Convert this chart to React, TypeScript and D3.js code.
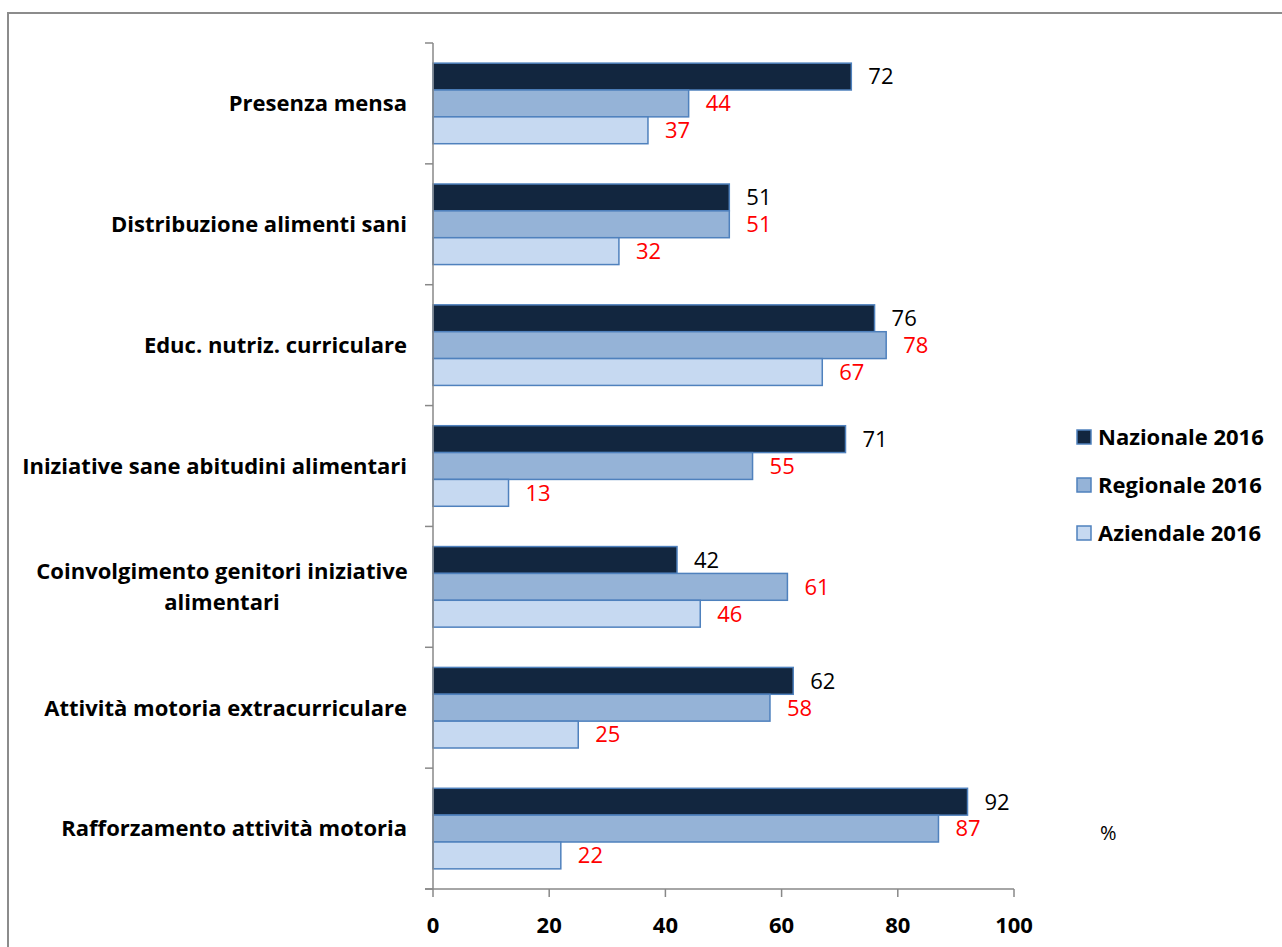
import React from "react";
import * as d3 from "d3";

const categories = [
  ["Presenza mensa"],
  ["Distribuzione alimenti sani"],
  ["Educ. nutriz. curriculare"],
  ["Iniziative sane abitudini alimentari"],
  ["Coinvolgimento genitori iniziative", "alimentari"],
  ["Attività motoria extracurriculare"],
  ["Rafforzamento attività motoria"],
];
const nazionale = [72, 51, 76, 71, 42, 62, 92];
const regionale = [44, 51, 78, 55, 61, 58, 87];
const aziendale = [37, 32, 67, 13, 46, 25, 22];
const seriesNames = ["Nazionale 2016", "Regionale 2016", "Aziendale 2016"];
const seriesColors = ["#12263f", "#95b3d7", "#c6d9f1"];
const labelColors = ["#000000", "#ff0000", "#ff0000"];
const xTicks = [0, 20, 40, 60, 80, 100];

const FONT = "'Open Sans', sans-serif";

export default function App() {
  const W = 1282, H = 947;
  const x0 = 433, x1 = 1014, y0 = 43, y1 = 889;
  const x = d3.scaleLinear().domain([0, 100]).range([x0, x1]);
  const idx = categories.map((_, i) => i);
  const y = d3.scaleBand<number>().domain(idx).range([y0, y1]).paddingInner(0).paddingOuter(0);
  const groupH = y.bandwidth() / 1.5;
  const inner = d3.scaleBand<number>().domain([0, 1, 2]).range([0, groupH]).padding(0);
  const series = [nazionale, regionale, aziendale];
  const bounds = d3.range(categories.length + 1).map((i) => y0 + i * y.bandwidth());

  return (
    <svg width={W} height={H} style={{ position: "absolute", left: 0, top: 0, background: "#fff" }}>
      <rect x={8} y={13} width={1300} height={960} fill="#fff" stroke="#8c8c8c" strokeWidth={2} />
      {/* bars */}
      {idx.map((ci) => {
        const gy = (y(ci) as number) + (y.bandwidth() - groupH) / 2;
        return series.map((s, si) => {
          const by = gy + (inner(si) as number);
          const v = s[ci];
          return (
            <g key={`${ci}-${si}`}>
              <rect x={x(0)} y={by} width={x(v) - x(0)} height={inner.bandwidth()} fill={seriesColors[si]} stroke="#4f81bd" strokeWidth={1.5} />
              <text x={x(v) + 17} y={by + inner.bandwidth() / 2} dy="0.36em" fontFamily={FONT} fontSize={22} fill={labelColors[si]}>
                {v}
              </text>
            </g>
          );
        });
      })}
      {/* y axis */}
      <line x1={x0} x2={x0} y1={y0} y2={y1} stroke="#888" strokeWidth={1.5} />
      {bounds.map((b, i) => (
        <line key={i} x1={x0 - 8} x2={x0} y1={b} y2={b} stroke="#888" strokeWidth={1.5} />
      ))}
      {/* x axis */}
      <line x1={x0 - 8} x2={x1} y1={y1} y2={y1} stroke="#888" strokeWidth={1.5} />
      {xTicks.map((t) => (
        <g key={t}>
          <line x1={x(t)} x2={x(t)} y1={y1} y2={y1 + 8} stroke="#888" strokeWidth={1.5} />
          <text x={x(t)} y={933} textAnchor="middle" fontFamily={FONT} fontWeight="bold" fontSize={22} fill="#000">
            {t}
          </text>
        </g>
      ))}
      {/* category labels */}
      {idx.map((ci) => {
        const lines = categories[ci];
        const cy = (y(ci) as number) + y.bandwidth() / 2;
        const lh = 31;
        if (lines.length === 1) {
          return (
            <text key={ci} x={407} y={cy} dy="0.36em" textAnchor="end" fontFamily={FONT} fontWeight="bold" fontSize={22} fill="#000">
              {lines[0]}
            </text>
          );
        }
        return (
          <text key={ci} textAnchor="middle" fontFamily={FONT} fontWeight="bold" fontSize={22} fill="#000">
            {lines.map((l, li) => (
              <tspan key={li} x={222} y={cy - ((lines.length - 1) * lh) / 2 + li * lh} dy="0.36em">
                {l}
              </tspan>
            ))}
          </text>
        );
      })}
      {/* legend */}
      {seriesNames.map((n, i) => {
        const ly = 437 + i * 48;
        return (
          <g key={n}>
            <rect x={1077} y={ly - 7} width={14} height={14} fill={seriesColors[i]} stroke="#4f81bd" strokeWidth={1.5} />
            <text x={1098} y={ly} dy="0.36em" fontFamily={FONT} fontWeight="bold" fontSize={22} fill="#000">
              {n}
            </text>
          </g>
        );
      })}
      <text x={1100} y={833} dy="0.36em" fontFamily={FONT} fontSize={20} fill="#000">%</text>
    </svg>
  );
}
